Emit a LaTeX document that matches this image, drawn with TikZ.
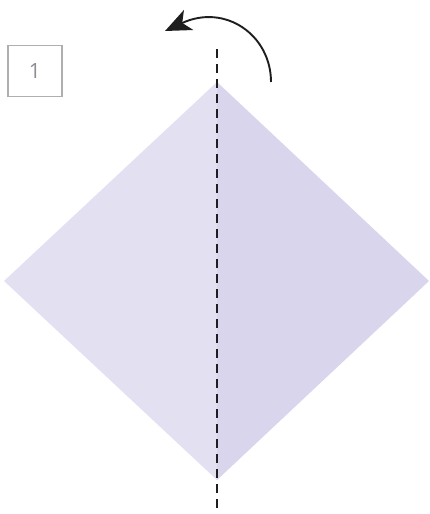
\documentclass[tikz,border=0pt]{standalone}
\usepackage{fontspec}
\setmainfont{Open Sans}
\usetikzlibrary{arrows.meta}
\definecolor{leftface}{RGB}{227,225,241}
\definecolor{rightface}{RGB}{216,213,236}
\definecolor{boxgray}{RGB}{175,175,175}
\definecolor{numgray}{RGB}{140,140,150}
\definecolor{inkdark}{RGB}{30,30,30}
\tikzset{
  stepnum/.style={draw=boxgray, line width=1.4pt, minimum width=54pt, minimum height=51pt, inner sep=0pt, text=numgray, font=\fontsize{21}{25}\selectfont},
  foldline/.style={draw=inkdark, line width=2pt, dash pattern=on 9pt off 6pt},
  turnarrow/.style={draw=inkdark, line width=1.9pt, -{Stealth[length=26pt,width=22pt,inset=7pt]}}
}
\begin{document}
\begin{tikzpicture}[x=1pt,y=-1pt]
\useasboundingbox (0,0) rectangle (430,514);
\coordinate (T) at (217,82);
\coordinate (B) at (217,480);
\coordinate (L) at (4,281);
\coordinate (R) at (429,281);
\fill[leftface] (T) -- (L) -- (B) -- cycle;
\fill[rightface] (T) -- (R) -- (B) -- cycle;
\coordinate (ftop) at (217,49);
\coordinate (fbot) at (217,512);
\draw[foldline] (ftop) -- (fbot);
\node[stepnum] (n1) at (35,71) {1};
\coordinate (as) at (271,82);
\coordinate (ae) at (165,31);
\draw[turnarrow] (as) .. controls (271,35) and (225,3) .. (ae);
\end{tikzpicture}
\end{document}
